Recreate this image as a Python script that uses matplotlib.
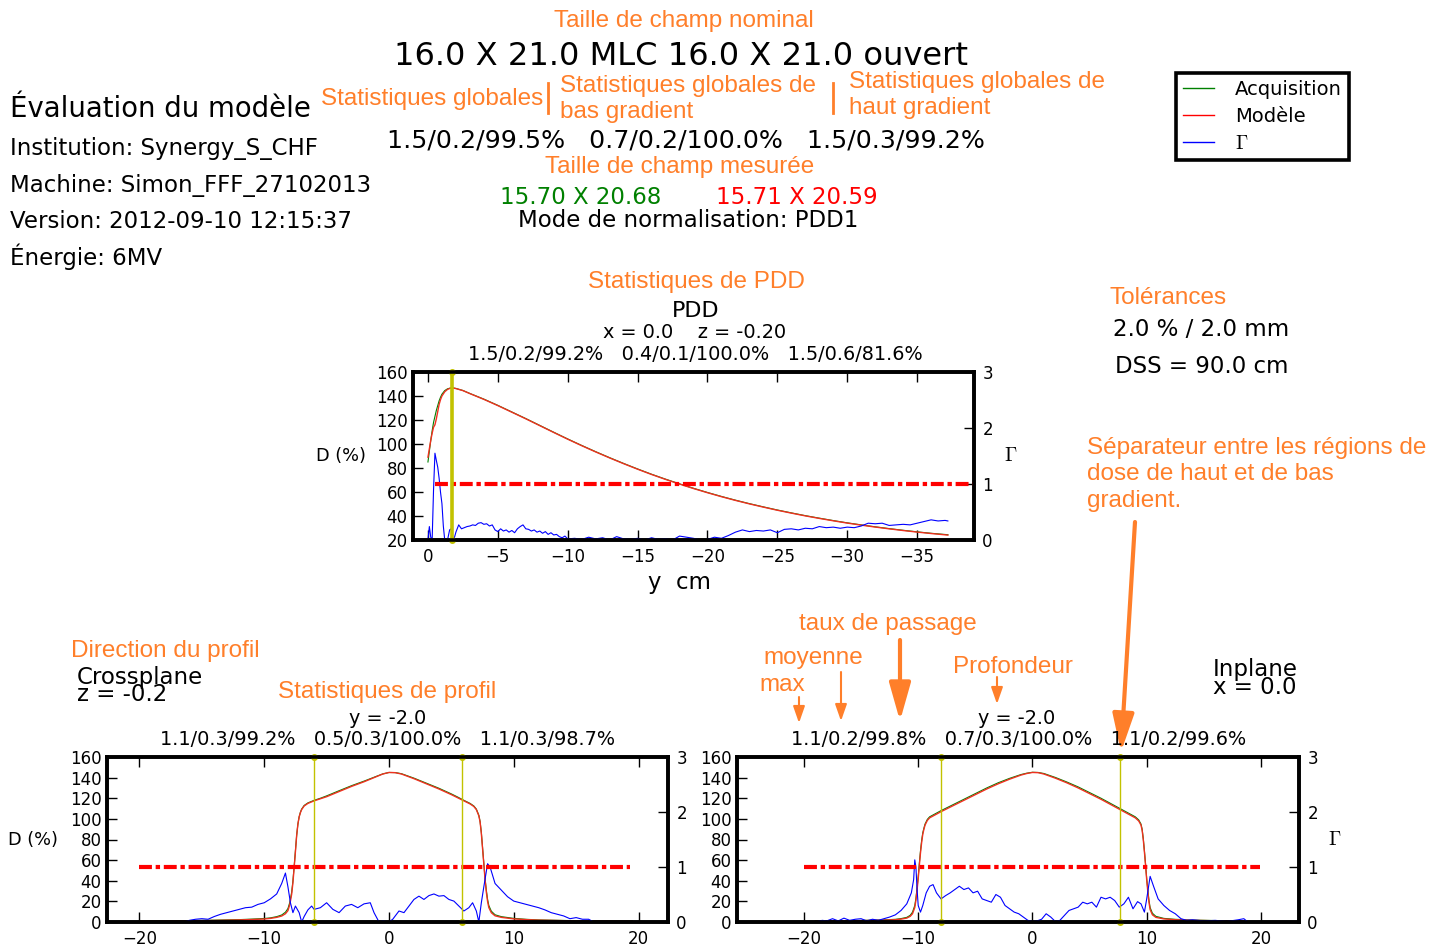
import numpy as np
import matplotlib
matplotlib.use('Agg')
import matplotlib.pyplot as plt
from matplotlib.lines import Line2D
from matplotlib.patches import FancyArrowPatch

plt.rcParams['mathtext.fontset'] = 'cm'
plt.rcParams['font.family'] = 'DejaVu Sans'

# ---------------- data ----------------
# PDD (depth y in cm, dose in %)
pdd_model = [(0.0, 89), (-0.1, 96), (-0.2, 103), (-0.3, 109), (-0.4, 114), (-0.5, 116), (-0.6, 121),
             (-0.7, 127), (-0.8, 133), (-0.9, 137), (-1.0, 140), (-1.2, 143.5), (-1.4, 145.5),
             (-1.6, 146.5), (-1.8, 146.6), (-2.0, 146.2), (-2.5, 144.5), (-3, 142), (-4, 137.2),
             (-5, 132), (-6, 126.5), (-7, 121), (-8, 115.3), (-9, 109.6), (-10, 104), (-11, 98.6),
             (-12, 93.4), (-13, 88.4), (-14, 83.6), (-15, 79), (-16, 74.6), (-17, 70.5), (-18, 66.6),
             (-19, 62.9), (-20, 59.4), (-21, 56.1), (-22, 53), (-23, 50.1), (-24, 47.4), (-25, 44.8),
             (-26, 42.4), (-27, 40.1), (-28, 38), (-29, 36), (-30, 34.1), (-31, 32.4),
             (-32, 30.8), (-33, 29.3), (-34, 27.9), (-35, 26.6), (-36, 25.4), (-37.2, 24.1)]
pdd_acq = [(0.0, 85), (-0.1, 94), (-0.2, 103), (-0.3, 111), (-0.4, 118), (-0.5, 123), (-0.6, 128),
           (-0.7, 132), (-0.8, 136), (-0.9, 139), (-1.0, 141.5), (-1.2, 144.5), (-1.4, 146),
           (-1.6, 146.6), (-1.8, 146.7), (-2.0, 146.3), (-2.5, 144.6), (-3, 142.1), (-4, 137.4),
           (-5, 132.2), (-6, 126.7), (-7, 121.2), (-8, 115.5), (-9, 109.8), (-10, 104.2), (-11, 98.8),
           (-12, 93.6), (-13, 88.6), (-14, 83.8), (-15, 79.2), (-16, 74.8), (-17, 70.7), (-18, 66.8),
           (-19, 63.1), (-20, 59.6), (-21, 56.3), (-22, 53.2), (-23, 50.3), (-24, 47.6), (-25, 45.0),
           (-26, 42.6), (-27, 40.3), (-28, 38.2), (-29, 36.2), (-30, 34.3), (-31, 32.6),
           (-32, 31.0), (-33, 29.5), (-34, 28.1), (-35, 26.8), (-36, 25.6), (-37.2, 24.4)]
pdd_gamma = [(0.0, 0.0), (-0.1, 0.24), (-0.2, 0.05), (-0.3, 0.0), (-0.4, 0.9), (-0.5, 1.55),
             (-0.6, 1.42), (-0.7, 1.3), (-0.8, 1.1), (-0.9, 0.85), (-1.0, 0.65), (-1.1, 0.25),
             (-1.2, 0.0), (-1.4, 0.0), (-1.55, 0.18), (-1.65, 0.2), (-1.8, 0.0), (-1.9, 0.05),
             (-2.0, 0.14), (-2.2, 0.27), (-2.4, 0.2), (-2.6, 0.22), (-2.8, 0.24), (-3.0, 0.25),
             (-3.2, 0.27), (-3.4, 0.26), (-3.6, 0.3), (-3.8, 0.31), (-4.0, 0.28), (-4.2, 0.29),
             (-4.4, 0.25), (-4.6, 0.27), (-4.8, 0.18), (-5.0, 0.15), (-5.2, 0.2), (-5.4, 0.16),
             (-5.6, 0.18), (-5.8, 0.14), (-6.0, 0.17), (-6.2, 0.13), (-6.4, 0.2), (-6.6, 0.24),
             (-6.8, 0.27), (-7.0, 0.2), (-7.2, 0.19), (-7.4, 0.16), (-7.6, 0.18), (-7.8, 0.14),
             (-8.0, 0.16), (-8.2, 0.12), (-8.4, 0.15), (-8.6, 0.1), (-8.8, 0.13), (-9.0, 0.09),
             (-9.2, 0.1), (-9.4, 0.06), (-9.6, 0.04), (-9.8, 0.07), (-10.0, 0.02), (-10.5, 0.03),
             (-11.0, 0.01), (-11.5, 0.05), (-12.0, 0.02), (-12.5, 0.04), (-13.0, 0.0), (-13.5, 0.06),
             (-14.0, 0.02), (-14.5, 0.01), (-15.0, 0.03), (-15.5, 0.0), (-16.0, 0.04), (-16.5, 0.01),
             (-17.0, 0.02), (-17.5, 0.0), (-18.0, 0.07), (-18.5, 0.05), (-19.0, 0.03), (-19.5, 0.0),
             (-20.0, 0.01), (-20.5, 0.05), (-21.0, 0.03), (-21.5, 0.08), (-22.0, 0.14), (-22.5, 0.18),
             (-23.0, 0.15), (-23.5, 0.17), (-24.0, 0.16), (-24.5, 0.18), (-25.0, 0.13), (-25.5, 0.19),
             (-26.0, 0.2), (-26.5, 0.18), (-27.0, 0.21), (-27.5, 0.2), (-28.0, 0.24), (-28.5, 0.22),
             (-29.0, 0.23), (-29.5, 0.21), (-30.0, 0.23), (-30.5, 0.22), (-31.0, 0.25), (-31.5, 0.3),
             (-32.0, 0.29), (-32.5, 0.3), (-33.0, 0.26), (-33.5, 0.27), (-34.0, 0.28), (-34.5, 0.27),
             (-35.0, 0.3), (-35.5, 0.33), (-36.0, 0.36), (-36.5, 0.34), (-37.0, 0.35), (-37.2, 0.34)]
pdd_separator = -1.7
pdd_gamma_line_x = [-0.5, -39.1]

# Crossplane profile (x in cm)
cross_model = [(-20, 0.8), (-18, 1.0), (-16, 1.2), (-14, 1.5), (-12, 2.0), (-11, 2.4), (-10, 2.9),
               (-9.5, 3.5), (-9, 4.5), (-8.6, 5.8), (-8.3, 8), (-8.1, 11), (-7.95, 17), (-7.8, 27),
               (-7.7, 38), (-7.6, 53), (-7.5, 68), (-7.4, 84), (-7.3, 95), (-7.2, 102), (-7.1, 106),
               (-7.0, 109), (-6.8, 112.5), (-6.5, 115), (-6.0, 117.5), (-5.5, 119.5), (-5, 121.5),
               (-4, 126.5), (-3, 131.5), (-2, 136), (-1, 141), (-0.5, 143.5), (0, 145), (0.5, 144.8),
               (1, 143.5), (2, 139), (3, 134), (4, 129), (5, 123.5), (5.5, 120.5), (6, 117.5),
               (6.5, 114.5), (6.8, 112), (7.0, 109), (7.2, 103), (7.3, 97), (7.4, 86), (7.5, 71),
               (7.6, 56), (7.7, 41), (7.8, 29), (7.9, 20), (8.0, 14), (8.2, 9), (8.5, 6), (9, 4.5),
               (10, 3), (11, 2.3), (12, 1.8), (14, 1.3), (16, 1.0), (18, 0.8), (19.5, 0.7)]
cross_acq = [(-20, 1.0), (-18, 1.2), (-16, 1.4), (-14, 1.8), (-12, 2.3), (-11, 2.8), (-10, 3.4),
             (-9.5, 4.0), (-9, 5.2), (-8.6, 6.8), (-8.3, 9.5), (-8.1, 13), (-7.95, 19), (-7.8, 29),
             (-7.7, 40), (-7.6, 54), (-7.5, 69), (-7.4, 84), (-7.3, 95), (-7.2, 102), (-7.1, 106.5),
             (-7.0, 109.5), (-6.8, 113), (-6.5, 115.5), (-6.0, 118), (-5.5, 120), (-5, 122.3),
             (-4, 127.3), (-3, 132.2), (-2, 136.6), (-1, 141.3), (-0.5, 143.6), (0, 145), (0.5, 144.9),
             (1, 143.8), (2, 139.5), (3, 134.6), (4, 129.7), (5, 124.2), (5.5, 121.2), (6, 118),
             (6.5, 115), (6.8, 112.5), (7.0, 109.5), (7.2, 103.5), (7.3, 97.5), (7.4, 87), (7.5, 72),
             (7.6, 57), (7.7, 42), (7.8, 31), (7.9, 22), (8.0, 16), (8.2, 10.5), (8.5, 7), (9, 5.2),
             (10, 3.5), (11, 2.6), (12, 2.0), (14, 1.5), (16, 1.1), (18, 0.9), (19.5, 0.8)]
cross_gamma = [(-16.4, 0.0), (-16, 0.03), (-15.5, 0.05), (-15, 0.06), (-14.5, 0.05), (-14, 0.1),
               (-13.5, 0.14), (-13, 0.17), (-12.5, 0.2), (-12, 0.23), (-11.5, 0.26), (-11, 0.27),
               (-10.5, 0.32), (-10, 0.35), (-9.5, 0.42), (-9, 0.51), (-8.6, 0.7), (-8.3, 0.89),
               (-8.1, 0.64), (-7.9, 0.35), (-7.7, 0.17), (-7.5, 0.29), (-7.2, 0.17), (-7.0, 0.0),
               (-6.8, 0.1), (-6.5, 0.22), (-6.2, 0.29), (-6.0, 0.23), (-5.5, 0.26), (-5.0, 0.35),
               (-4.5, 0.23), (-4.0, 0.17), (-3.5, 0.29), (-3.0, 0.32), (-2.5, 0.26), (-2.0, 0.33),
               (-1.5, 0.35), (-1.2, 0.17), (-0.8, 0.0), (-0.5, 0.02), (0.0, 0.0), (0.3, 0.05),
               (0.8, 0.2), (1.2, 0.17), (1.6, 0.29), (2.0, 0.41), (2.4, 0.47), (2.8, 0.41),
               (3.2, 0.48), (3.6, 0.51), (4.0, 0.47), (4.4, 0.48), (4.8, 0.41), (5.2, 0.38),
               (5.6, 0.29), (6.0, 0.2), (6.4, 0.26), (6.7, 0.35), (7.0, 0.2), (7.2, 0.0), (7.4, 0.35),
               (7.6, 0.64), (7.9, 1.06), (8.1, 1.0), (8.5, 0.7), (9.0, 0.58), (9.5, 0.46), (10.0, 0.38),
               (10.5, 0.35), (11.0, 0.32), (11.5, 0.29), (12.0, 0.26), (12.5, 0.22), (13.0, 0.17),
               (13.5, 0.14), (14.0, 0.11), (14.5, 0.06), (15.0, 0.08), (15.5, 0.05), (16.0, 0.05),
               (16.4, 0.0)]
cross_separators = [-6.0, 5.85]
cross_gamma_line_x = [-20.0, 19.3]

# Inplane profile
in_model = [(-19, 0.8), (-17, 1.0), (-15, 1.3), (-13, 1.8), (-12, 2.2), (-11.5, 2.8), (-11, 3.8),
            (-10.7, 5.5), (-10.5, 8), (-10.3, 14), (-10.2, 21), (-10.1, 31), (-10.0, 42), (-9.9, 55),
            (-9.8, 67), (-9.7, 77), (-9.6, 85), (-9.5, 90), (-9.4, 94), (-9.2, 98.5), (-9.0, 101),
            (-8.5, 104), (-8.0, 107), (-7, 112.5), (-6, 118), (-5, 123.5), (-4, 129), (-3, 134),
            (-2, 138.5), (-1, 142.5), (-0.5, 144), (0, 145), (0.5, 144.8), (1, 143.5), (2, 139.5),
            (3, 135), (4, 130), (5, 124.5), (6, 119), (7, 113), (8, 107), (8.5, 104), (9, 101),
            (9.3, 98), (9.5, 94), (9.6, 89), (9.7, 80), (9.8, 68), (9.9, 55), (10.0, 41), (10.1, 29),
            (10.2, 19), (10.3, 12), (10.5, 7), (10.8, 4.5), (11.5, 3), (12.5, 2.2), (14, 1.6),
            (16, 1.2), (18.5, 0.9)]
in_acq = [(-19, 1.0), (-17, 1.2), (-15, 1.5), (-13, 2.1), (-12, 2.6), (-11.5, 3.3), (-11, 4.5),
          (-10.7, 6.5), (-10.5, 9.5), (-10.3, 16), (-10.2, 23), (-10.1, 33), (-10.0, 44), (-9.9, 57),
          (-9.8, 69), (-9.7, 79), (-9.6, 86.5), (-9.5, 91), (-9.4, 95), (-9.2, 99.5), (-9.0, 102),
          (-8.5, 105), (-8.0, 108), (-7, 113.5), (-6, 119), (-5, 124.5), (-4, 130), (-3, 135),
          (-2, 139.3), (-1, 143), (-0.5, 144.3), (0, 145.2), (0.5, 145), (1, 144), (2, 140.2),
          (3, 135.8), (4, 131), (5, 125.5), (6, 120), (7, 114), (8, 108), (8.5, 105), (9, 102),
          (9.3, 99), (9.5, 95), (9.6, 90), (9.7, 81), (9.8, 69), (9.9, 56), (10.0, 42), (10.1, 31),
          (10.2, 21), (10.3, 14), (10.5, 8.5), (10.8, 5.5), (11.5, 3.5), (12.5, 2.6), (14, 1.9),
          (16, 1.4), (18.5, 1.0)]
in_gamma = [(-18.8, 0.01), (-18.4, 0.03), (-18, 0.02), (-17.5, 0.06), (-17, 0.02), (-16.5, 0.07),
            (-16, 0.03), (-15.5, 0.05), (-15, 0.06), (-14.5, 0.02), (-14, 0.05), (-13.5, 0.03),
            (-13, 0.06), (-12.5, 0.09), (-12, 0.13), (-11.5, 0.21), (-11, 0.33), (-10.6, 0.53),
            (-10.4, 0.77), (-10.3, 1.13), (-10.2, 1.0), (-10.1, 0.6), (-10.0, 0.3), (-9.8, 0.18),
            (-9.6, 0.3), (-9.3, 0.53), (-9.0, 0.65), (-8.7, 0.68), (-8.4, 0.53), (-8.0, 0.42),
            (-7.6, 0.48), (-7.2, 0.53), (-6.8, 0.59), (-6.4, 0.65), (-6.0, 0.59), (-5.6, 0.62),
            (-5.2, 0.53), (-4.8, 0.56), (-4.4, 0.42), (-4.0, 0.39), (-3.6, 0.36), (-3.2, 0.5),
            (-2.8, 0.45), (-2.4, 0.3), (-2.0, 0.24), (-1.6, 0.18), (-1.2, 0.15), (-0.8, 0.09),
            (-0.4, 0.03), (0.0, 0.01), (0.4, 0.02), (0.8, 0.05), (1.2, 0.15), (1.6, 0.09), (2.0, 0.01),
            (2.4, 0.03), (2.8, 0.12), (3.2, 0.21), (3.6, 0.24), (4.0, 0.27), (4.4, 0.36), (4.8, 0.33),
            (5.2, 0.36), (5.6, 0.27), (6.0, 0.45), (6.4, 0.42), (6.8, 0.45), (7.2, 0.39), (7.6, 0.27),
            (8.0, 0.33), (8.4, 0.45), (8.8, 0.24), (9.2, 0.37), (9.5, 0.33), (9.8, 0.18), (10.0, 0.42),
            (10.3, 0.83), (10.6, 0.65), (11.0, 0.42), (11.5, 0.3), (12.0, 0.21), (12.5, 0.15),
            (13.0, 0.06), (13.5, 0.03), (14.0, 0.04), (15.0, 0.02), (16.0, 0.03), (17.0, 0.01),
            (18.0, 0.04), (18.5, 0.06), (18.8, 0.01)]
in_separators = [-8.0, 7.65]
in_gamma_line_x = [-20.0, 19.9]

gamma_threshold = 1.0

dose_ticks = [0, 20, 40, 60, 80, 100, 120, 140, 160]
pdd_dose_ticks = [20, 40, 60, 80, 100, 120, 140, 160]
gamma_ticks = [0, 1, 2, 3]
pdd_xticks = [0, -5, -10, -15, -20, -25, -30, -35]
prof_xticks = [-20, -10, 0, 10, 20]

legend_labels = ['Acquisition', 'Modèle', r'$\Gamma$']

# ---------------- figure ----------------
W, H = 1444, 949
fig = plt.figure(figsize=(W / 100, H / 100), dpi=100)
ORANGE = '#ff7f2a'
YEL = (0.76, 0.76, 0.0)
RED = '#f03020'
GAMMA_LS = (0, (3.1, 0.9, 1.05, 0.9))


def fx(x):
    return x / W


def fy(y):
    return 1 - y / H


def txt(x, y, s, size, color='black', ha='left', fam='DejaVu Sans'):
    fig.text(fx(x), fy(y), s, fontsize=size, color=color, ha=ha, va='baseline', family=fam)


def otxt(x, y, s, ha='left', size=17.5):
    txt(x, y, s, size, ORANGE, ha, 'Liberation Sans')


def make_axes(left, right, top, bottom):
    ax = fig.add_axes([fx(left), fy(bottom), (right - left) / W, (bottom - top) / H])
    ax2 = ax.twinx()
    for a in (ax, ax2):
        for sp in a.spines.values():
            sp.set_linewidth(2.6)
    ax.tick_params(axis='x', direction='in', length=7, width=1, labelsize=12, top=True, pad=6)
    ax.tick_params(axis='y', direction='in', length=7, width=1, labelsize=12, pad=4)
    ax2.tick_params(axis='y', direction='in', length=7, width=1, labelsize=12, pad=6)
    ax2.set_ylim(0, 3)
    ax2.set_yticks(gamma_ticks)
    return ax, ax2


def xy(pairs):
    a = np.array(pairs, dtype=float)
    return a[:, 0], a[:, 1]


# ---- PDD ----
ax, ax2 = make_axes(413, 974, 372, 540)
ax.plot(*xy(pdd_acq), color='green', lw=0.8)
ax.plot(*xy(pdd_model), color=RED, lw=1.0)
ax.set_xlim(1.07, -39.07)
ax.set_ylim(20, 160)
ax.set_xticks(pdd_xticks)
ax.set_yticks(pdd_dose_ticks)
ax2.plot(*xy(pdd_gamma), color='blue', lw=0.8)
ax2.plot(pdd_gamma_line_x, [gamma_threshold] * 2, color='red', lw=3, ls=GAMMA_LS)
ax2.plot([pdd_separator] * 2, [0, 3], color=YEL, lw=2.6, marker='o', ms=4, clip_on=False)
ax2.set_xlim(1.07, -39.07)

# ---- Crossplane ----
bx, bx2 = make_axes(107, 668, 757, 922)
bx.plot(*xy(cross_acq), color='green', lw=0.8)
bx.plot(*xy(cross_model), color=RED, lw=1.0)
bx.set_xlim(-22.6, 22.36)
bx.set_ylim(0, 160)
bx.set_xticks(prof_xticks)
bx.set_yticks(dose_ticks)
bx2.plot(*xy(cross_gamma), color='blue', lw=0.8)
bx2.plot(cross_gamma_line_x, [gamma_threshold] * 2, color='red', lw=3, ls=GAMMA_LS)
for s in cross_separators:
    bx2.plot([s, s], [0, 3], color=YEL, lw=1, marker='o', ms=4, clip_on=False)
bx2.set_xlim(-22.6, 22.36)

# ---- Inplane ----
cx, cx2 = make_axes(737, 1299, 757, 922)
cx.plot(*xy(in_acq), color='green', lw=0.8)
cx.plot(*xy(in_model), color=RED, lw=1.0)
cx.set_xlim(-25.86, 23.33)
cx.set_ylim(0, 160)
cx.set_xticks(prof_xticks)
cx.set_yticks(dose_ticks)
cx2.plot(*xy(in_gamma), color='blue', lw=0.8)
cx2.plot(in_gamma_line_x, [gamma_threshold] * 2, color='red', lw=3, ls=GAMMA_LS)
for s in in_separators:
    cx2.plot([s, s], [0, 3], color=YEL, lw=1, marker='o', ms=4, clip_on=False)
cx2.set_xlim(-25.86, 23.33)

# ---- Legend ----
handles = [Line2D([], [], color='green', lw=1), Line2D([], [], color='red', lw=1),
           Line2D([], [], color='blue', lw=1)]
leg = fig.legend(handles, legend_labels, loc='upper left', bbox_to_anchor=(fx(1176), fy(73)),
                 borderaxespad=0, fontsize=14, frameon=True, fancybox=False, edgecolor='black',
                 framealpha=1, handlelength=1.6, handletextpad=1.1, labelspacing=0.42,
                 borderpad=0.35)
leg.get_frame().set_linewidth(2.6)

# ---- Texts ----
otxt(684, 27, 'Taille de champ nominal', ha='center')
txt(681, 65, '16.0 X 21.0 MLC 16.0 X 21.0 ouvert', 23.1, ha='center')
txt(10, 117, 'Évaluation du modèle', 19.8)
txt(10, 155, 'Institution: Synergy_S_CHF', 16.5)
txt(10, 192, 'Machine: Simon_FFF_27102013', 16.5)
txt(10, 228, 'Version: 2012-09-10 12:15:37', 16.5)
txt(10, 265, 'Énergie: 6MV', 16.5)

otxt(321, 105, 'Statistiques globales')
otxt(560, 92, 'Statistiques globales de')
otxt(560, 118, 'bas gradient')
otxt(849, 88, 'Statistiques globales de')
otxt(849, 114, 'haut gradient')
for xb in (548, 833):
    fig.add_artist(Line2D([fx(xb), fx(xb)], [fy(83), fy(113)], color=ORANGE, lw=2,
                          transform=fig.transFigure))

txt(686, 147, '1.5/0.2/99.5%   0.7/0.2/100.0%   1.5/0.3/99.2%', 18.2, ha='center')
otxt(680, 173, 'Taille de champ mesurée', ha='center')
txt(581, 204, '15.70 X 20.68', 16.5, color='green', ha='center')
txt(797, 204, '15.71 X 20.59', 16.5, color='red', ha='center')
txt(688, 227, 'Mode de normalisation: PDD1', 16.5, ha='center')

otxt(696, 288, 'Statistiques de PDD', ha='center')
txt(696, 317, 'PDD', 16, ha='center')
txt(695, 338, 'x = 0.0    z = -0.20', 13.9, ha='center')
txt(695, 360, '1.5/0.2/99.2%   0.4/0.1/100.0%   1.5/0.6/81.6%', 13.9, ha='center')
txt(316, 461, 'D (%)', 12.8)
txt(1004, 461, r'$\Gamma$', 14)
txt(680, 589, 'y  cm', 16.5, ha='center')

otxt(1110, 304, 'Tolérances')
txt(1113, 336, '2.0 % / 2.0 mm', 16.5)
txt(1115, 373, 'DSS = 90.0 cm', 16.5)

otxt(1087, 454, 'Séparateur entre les régions de')
otxt(1087, 480, 'dose de haut et de bas')
otxt(1087, 507, 'gradient.')

otxt(71, 657, 'Direction du profil')
txt(77, 684, 'Crossplane', 16.5)
txt(77, 701, 'z = -0.2', 16.5)
otxt(278, 698, 'Statistiques de profil')
txt(388, 724, 'y = -2.0', 13.9, ha='center')
txt(388, 745, '1.1/0.3/99.2%   0.5/0.3/100.0%   1.1/0.3/98.7%', 13.9, ha='center')
txt(8, 845, 'D (%)', 12.8)

otxt(888, 630, 'taux de passage', ha='center')
otxt(813, 664, 'moyenne', ha='center')
otxt(782, 691, 'max', ha='center')
otxt(1013, 673, 'Profondeur', ha='center')
txt(1213, 676, 'Inplane', 16.5)
txt(1213, 694, 'x = 0.0', 16.5)
txt(1017, 724, 'y = -2.0', 13.9, ha='center')
txt(1019, 745, '1.1/0.2/99.8%   0.7/0.3/100.0%   1.1/0.2/99.6%', 13.9, ha='center')
txt(1328, 845, r'$\Gamma$', 14)


# ---- Arrows ----
def arrow(x1, y1, x2, y2, lw, hl, hw):
    a = FancyArrowPatch((fx(x1), fy(y1)), (fx(x2), fy(y2)), transform=fig.transFigure,
                        arrowstyle='-|>,head_length=%g,head_width=%g' % (hl, hw),
                        mutation_scale=10, color=ORANGE, lw=lw, shrinkA=0, shrinkB=0)
    fig.add_artist(a)


arrow(1135, 522, 1121, 752, 3, 2.3, 0.65)
arrow(900, 640, 900, 721, 3, 2.3, 0.65)
arrow(841, 672, 841, 721, 1.5, 1.0, 0.35)
arrow(799, 697, 799, 723, 1.5, 1.0, 0.35)
arrow(997, 677, 997, 704, 1.5, 1.0, 0.35)

fig.savefig('out.png', dpi=100)
